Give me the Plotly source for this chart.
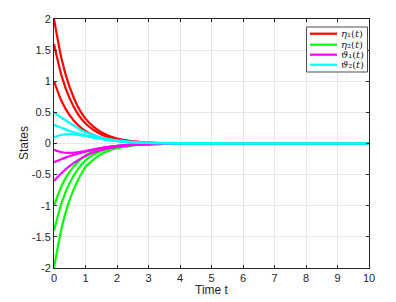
import plotly.graph_objects as go

t = [0, 0.25, 0.5, 0.75, 1, 1.25, 1.5, 1.75, 2, 2.5, 3, 3.5, 4, 5, 6, 7, 8, 9, 10]

eta1 = [
    [2.0, 1.34, 0.90, 0.60, 0.40, 0.27, 0.18, 0.12, 0.08, 0.036, 0.016, 0.007, 0.003, 0.001, 0, 0, 0, 0, 0],
    [1.6, 1.07, 0.72, 0.48, 0.32, 0.22, 0.145, 0.097, 0.065, 0.029, 0.013, 0.006, 0.0027, 0.0005, 0, 0, 0, 0, 0],
    [1.0, 0.67, 0.45, 0.30, 0.20, 0.135, 0.09, 0.06, 0.04, 0.018, 0.008, 0.004, 0.0017, 0.0003, 0, 0, 0, 0, 0],
]
eta2 = [
    [-2.0, -1.34, -0.90, -0.60, -0.38, -0.26, -0.17, -0.115, -0.077, -0.034, -0.015, -0.007, -0.003, -0.0005, 0, 0, 0, 0, 0],
    [-1.4, -0.94, -0.63, -0.42, -0.27, -0.18, -0.12, -0.08, -0.055, -0.024, -0.011, -0.005, -0.002, -0.0004, 0, 0, 0, 0, 0],
    [-1.0, -0.67, -0.45, -0.30, -0.19, -0.13, -0.088, -0.058, -0.039, -0.017, -0.008, -0.0035, -0.0016, -0.0003, 0, 0, 0, 0, 0],
]
theta1 = [
    [-0.6, -0.47, -0.36, -0.27, -0.20, -0.145, -0.105, -0.075, -0.053, -0.026, -0.012, -0.006, -0.003, -0.0005, 0, 0, 0, 0, 0],
    [-0.3, -0.25, -0.20, -0.165, -0.13, -0.10, -0.075, -0.055, -0.04, -0.02, -0.01, -0.005, -0.0025, -0.0005, 0, 0, 0, 0, 0],
    [-0.1, -0.14, -0.15, -0.14, -0.12, -0.095, -0.072, -0.053, -0.038, -0.019, -0.009, -0.0045, -0.002, -0.0004, 0, 0, 0, 0, 0],
]
theta2 = [
    [0.5, 0.41, 0.33, 0.25, 0.18, 0.13, 0.095, 0.07, 0.05, 0.025, 0.012, 0.006, 0.003, 0.0005, 0, 0, 0, 0, 0],
    [0.3, 0.25, 0.20, 0.16, 0.13, 0.10, 0.075, 0.055, 0.04, 0.02, 0.01, 0.005, 0.0025, 0.0005, 0, 0, 0, 0, 0],
    [0.1, 0.14, 0.15, 0.14, 0.12, 0.095, 0.072, 0.053, 0.038, 0.019, 0.009, 0.0045, 0.002, 0.0004, 0, 0, 0, 0, 0],
]

legend_labels = [
    "<i>η</i>₁(<i>t</i>)",
    "<i>η</i>₂(<i>t</i>)",
    "<i>ϑ</i>₁(<i>t</i>)",
    "<i>ϑ</i>₂(<i>t</i>)",
]
colors = ["#FF0000", "#00FF00", "#FF00FF", "#00FFFF"]
series_groups = [eta1, eta2, theta1, theta2]

x_ticks = list(range(0, 11))
y_ticks = [-2, -1.5, -1, -0.5, 0, 0.5, 1, 1.5, 2]
y_tick_labels = ["-2", "-1.5", "-1", "-0.5", "0", "0.5", "1", "1.5", "2"]

W, H = 396, 302
ML, MR, MT, MB = 54, 27, 19, 34
PW, PH = W - ML - MR, H - MT - MB


def px_x(p):
    return (p - ML) / PW


def px_y(p):
    return (H - MB - p) / PH


fig = go.Figure()
for name, color, series in zip(legend_labels, colors, series_groups):
    for ys in series:
        fig.add_trace(go.Scatter(
            x=t, y=ys, mode="lines", name=name, showlegend=False,
            line=dict(color=color, width=2.2, shape="spline", smoothing=0.8),
        ))

sans = "Liberation Sans, Arial, sans-serif"
serif = "DejaVu Serif, Liberation Serif, serif"
axis_common = dict(
    showline=True, linecolor="#262626", linewidth=1, mirror="ticks",
    ticks="inside", ticklen=3, tickcolor="#262626",
    showgrid=True, gridcolor="#E6E6E6", gridwidth=1, zeroline=False,
    tickfont=dict(family=sans, size=11, color="#262626"),
    automargin=False,
)

shapes = []
annotations = []
# legend box
shapes.append(dict(type="rect", xref="paper", yref="paper",
                   x0=px_x(306.5), x1=px_x(367.5), y0=px_y(72), y1=px_y(27),
                   line=dict(color="#4D4D4D", width=1), fillcolor="white", layer="above"))
row_y = [33.7, 44.7, 54.7, 64.7]
for label, color, ry in zip(legend_labels, colors, row_y):
    shapes.append(dict(type="line", xref="paper", yref="paper",
                       x0=px_x(310), x1=px_x(337), y0=px_y(ry), y1=px_y(ry),
                       line=dict(color=color, width=2.2), layer="above"))
    annotations.append(dict(xref="paper", yref="paper", x=px_x(339), y=px_y(ry),
                            xanchor="left", yanchor="middle", showarrow=False,
                            text=label, font=dict(family=serif, size=10, color="#262626")))

annotations.append(dict(xref="paper", yref="paper", x=px_x(212), y=px_y(290),
                        xanchor="center", yanchor="middle", showarrow=False,
                        text="Time t", font=dict(family=sans, size=12, color="#262626")))
annotations.append(dict(xref="paper", yref="paper", x=px_x(23.5), y=px_y(143.5),
                        xanchor="center", yanchor="middle", showarrow=False, textangle=-90,
                        text="States", font=dict(family=sans, size=12, color="#262626")))

fig.update_layout(
    width=W, height=H,
    margin=dict(l=ML, r=MR, t=MT, b=MB),
    paper_bgcolor="white", plot_bgcolor="white",
    xaxis=dict(range=[0, 10], tickvals=x_ticks, **axis_common),
    yaxis=dict(range=[-2, 2], tickvals=y_ticks, ticktext=y_tick_labels, **axis_common),
    shapes=shapes, annotations=annotations,
    showlegend=False,
)

fig.write_html("out.html", config={"displayModeBar": False, "staticPlot": True})
with open("out.html", "r", encoding="utf-8") as f:
    html = f.read()
html = html.replace("<head>", "<head><style>html,body{margin:0;padding:0;}</style>", 1)
with open("out.html", "w", encoding="utf-8") as f:
    f.write(html)
